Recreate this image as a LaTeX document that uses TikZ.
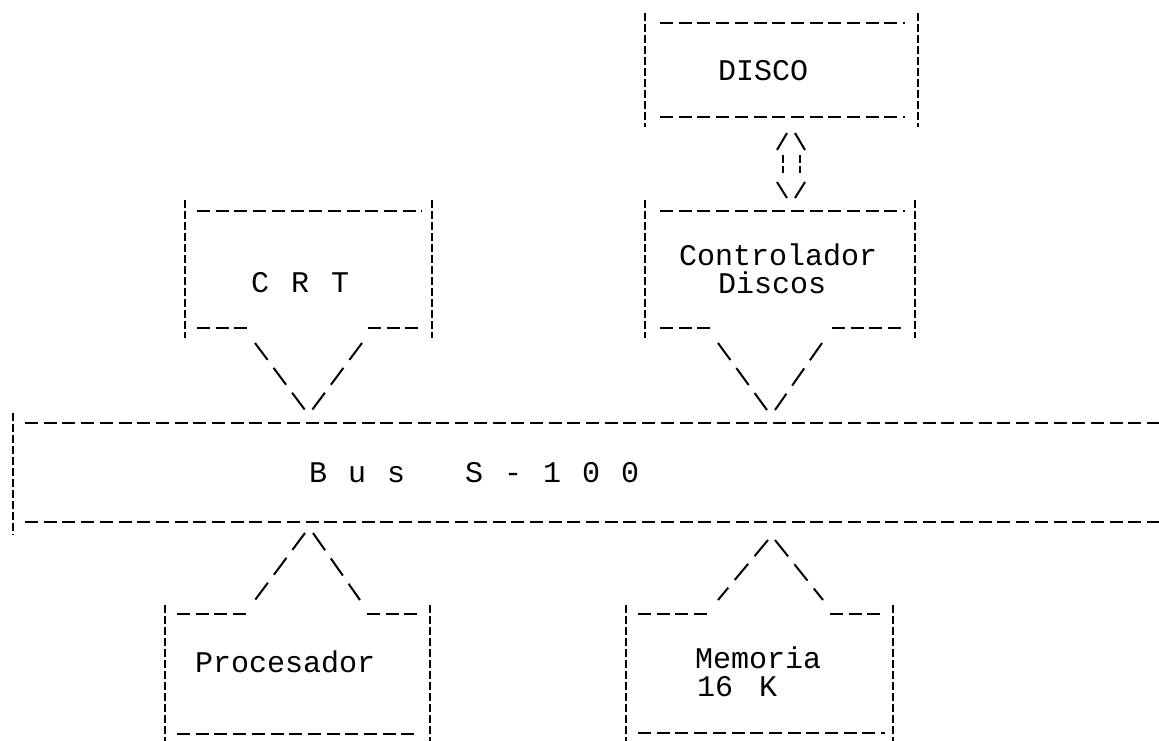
\documentclass[tikz,border=0pt]{standalone}
\usepackage{fontspec}
\newfontfamily\dotfont{Liberation Mono}
\begin{document}
\begin{tikzpicture}[x=1pt,y=-1pt,
  hd/.style={line width=1.4pt, dash pattern=on 13pt off 5.7pt},
  vd/.style={line width=2.1pt, dash pattern=on 7.5pt off 3.5pt},
  dg/.style={line width=2pt, dash pattern=on 21pt off 10pt},
  lbl/.style={font=\dotfont\fontsize{30}{30}\selectfont, inner sep=0pt, anchor=base west}]
\useasboundingbox[fill=white] (0,0) rectangle (1159,740);

% ---------- DISCO box
\draw[vd] (645,13) -- (645,127);
\draw[vd] (918,13) -- (918,127);
\draw[hd] (660,23) -- (905,23);
\draw[hd] (660,117) -- (905,117);
\node[lbl] (disco) at (718,80) {DISCO};

% ---------- double arrow DISCO <-> Controlador
\coordinate (da1) at (777,150); \coordinate (da2) at (787,133);
\coordinate (da3) at (795,133); \coordinate (da4) at (805,150);
\coordinate (db1) at (783,155); \coordinate (db2) at (783,173);
\coordinate (db3) at (800,155); \coordinate (db4) at (800,173);
\coordinate (dc1) at (777,182); \coordinate (dc2) at (787,198);
\coordinate (dc3) at (805,182); \coordinate (dc4) at (795,198);
\draw[line width=2pt] (da1) -- (da2) (da3) -- (da4) (dc1) -- (dc2) (dc3) -- (dc4);
\draw[vd] (db1) -- (db2) (db3) -- (db4);

% ---------- Controlador box
\draw[vd] (645,200) -- (645,338);
\draw[vd] (915,200) -- (915,338);
\draw[hd] (660,211) -- (905,211);
\draw[hd] (660,328) -- (715,328);
\draw[hd] (832,328) -- (905,328);
\node[lbl] (ctrl) at (679,265) {Controlador};
\node[lbl] (discos) at (718,293) {Discos};

% ---------- CRT box
\draw[vd] (185,200) -- (185,338);
\draw[vd] (432,200) -- (432,338);
\draw[hd] (197,211) -- (422,211);
\draw[hd] (197,328) -- (250,328);
\draw[hd] (368,328) -- (422,328);
\node[lbl] (crt) at (251,292) {C\hspace{22pt}R\hspace{22pt}T};

% ---------- Bus S-100
\draw[vd] (13,413) -- (13,535);
\draw[hd] (25,423) -- (1159,423);
\draw[hd] (25,522) -- (1159,522);
\node[lbl] (bus) at (309,482) {B\hspace{21pt}u\hspace{21pt}s\hspace{60pt}S\hspace{21pt}-\hspace{21pt}1\hspace{21pt}0\hspace{21pt}0};

% ---------- V connectors to bus
\coordinate (c1) at (255,343); \coordinate (c2) at (305,410);
\coordinate (c3) at (362,343); \coordinate (c4) at (312,410);
\draw[dg] (c1) -- (c2); \draw[dg] (c3) -- (c4);
\coordinate (k1) at (718,343); \coordinate (k2) at (767,410);
\coordinate (k3) at (822,343); \coordinate (k4) at (775,410);
\draw[dg] (k1) -- (k2); \draw[dg] (k3) -- (k4);

% ---------- Procesador box
\draw[vd] (165,605) -- (165,742);
\draw[vd] (430,605) -- (430,742);
\draw[hd] (177,614) -- (250,614);
\draw[hd] (367,614) -- (420,614);
\draw[hd] (177,734) -- (420,734);
\node[lbl] (proc) at (195,672) {Procesador};
\coordinate (p1) at (305,533); \coordinate (p2) at (255,600);
\coordinate (p3) at (313,533); \coordinate (p4) at (360,600);
\draw[dg] (p1) -- (p2); \draw[dg] (p3) -- (p4);

% ---------- Memoria box
\draw[vd] (626,605) -- (626,742);
\draw[vd] (893,605) -- (893,742);
\draw[hd] (638,614) -- (712,614);
\draw[hd] (830,614) -- (885,614);
\draw[hd] (638,733) -- (885,733);
\node[lbl] (mem) at (695,668) {Memoria};
\node[lbl] (memk) at (697,696) {16\hspace{26pt}K};
\coordinate (m1) at (768,540); \coordinate (m2) at (718,600);
\coordinate (m3) at (775,540); \coordinate (m4) at (823,600);
\draw[dg] (m1) -- (m2); \draw[dg] (m3) -- (m4);
\end{tikzpicture}
\end{document}
